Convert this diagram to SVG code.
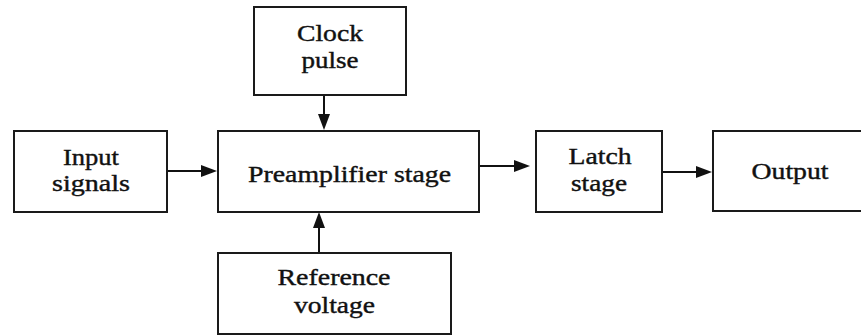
<svg xmlns="http://www.w3.org/2000/svg" width="861" height="336" viewBox="0 0 861 336">
<style>
.box{fill:#fff;stroke:#1a1a1a;stroke-width:2}
.t{font-family:"Liberation Serif","Times New Roman",serif;font-size:23px;fill:#111;stroke:#111;stroke-width:0.4;text-anchor:middle}
.c{stroke:#111;stroke-width:2;fill:none}
</style>
<defs>
<marker id="ah" markerUnits="userSpaceOnUse" markerWidth="16" markerHeight="12" refX="8" refY="6" orient="auto">
<path d="M0,0 L16,6 L0,12 z" fill="#111"/>
</marker>
</defs>
<rect width="861" height="336" fill="#fff"/>
<g id="connectors">
<line class="c" x1="324" y1="95" x2="324" y2="122" marker-end="url(#ah)"/>
<line class="c" x1="167" y1="171" x2="209" y2="171" marker-end="url(#ah)"/>
<line class="c" x1="479" y1="166" x2="522" y2="166" marker-end="url(#ah)"/>
<line class="c" x1="662" y1="172" x2="704" y2="172" marker-end="url(#ah)"/>
<line class="c" x1="319" y1="253" x2="319" y2="220" marker-end="url(#ah)"/>
</g>
<g id="clock">
<rect class="box" x="254" y="7" width="152" height="88"/>
<text class="t" x="330" y="41" textLength="66" lengthAdjust="spacingAndGlyphs">Clock</text>
<text class="t" x="330" y="68" textLength="57" lengthAdjust="spacingAndGlyphs">pulse</text>
</g>
<g id="input">
<rect class="box" x="14" y="131" width="153" height="81"/>
<text class="t" x="91" y="165" textLength="56" lengthAdjust="spacingAndGlyphs">Input</text>
<text class="t" x="91" y="191" textLength="78" lengthAdjust="spacingAndGlyphs">signals</text>
</g>
<g id="preamp">
<rect class="box" x="218" y="131" width="261" height="81"/>
<text class="t" x="349.5" y="182" textLength="203" lengthAdjust="spacingAndGlyphs">Preamplifier stage</text>
</g>
<g id="latch">
<rect class="box" x="536" y="131" width="126" height="81"/>
<text class="t" x="600" y="164" textLength="63" lengthAdjust="spacingAndGlyphs">Latch</text>
<text class="t" x="599" y="191" textLength="56" lengthAdjust="spacingAndGlyphs">stage</text>
</g>
<g id="output">
<rect class="box" x="713" y="131" width="160" height="80"/>
<text class="t" x="790" y="179" textLength="77" lengthAdjust="spacingAndGlyphs">Output</text>
</g>
<g id="reference">
<rect class="box" x="218" y="253" width="233" height="81"/>
<text class="t" x="334" y="285" textLength="113" lengthAdjust="spacingAndGlyphs">Reference</text>
<text class="t" x="334.5" y="313" textLength="81" lengthAdjust="spacingAndGlyphs">voltage</text>
</g>
</svg>
